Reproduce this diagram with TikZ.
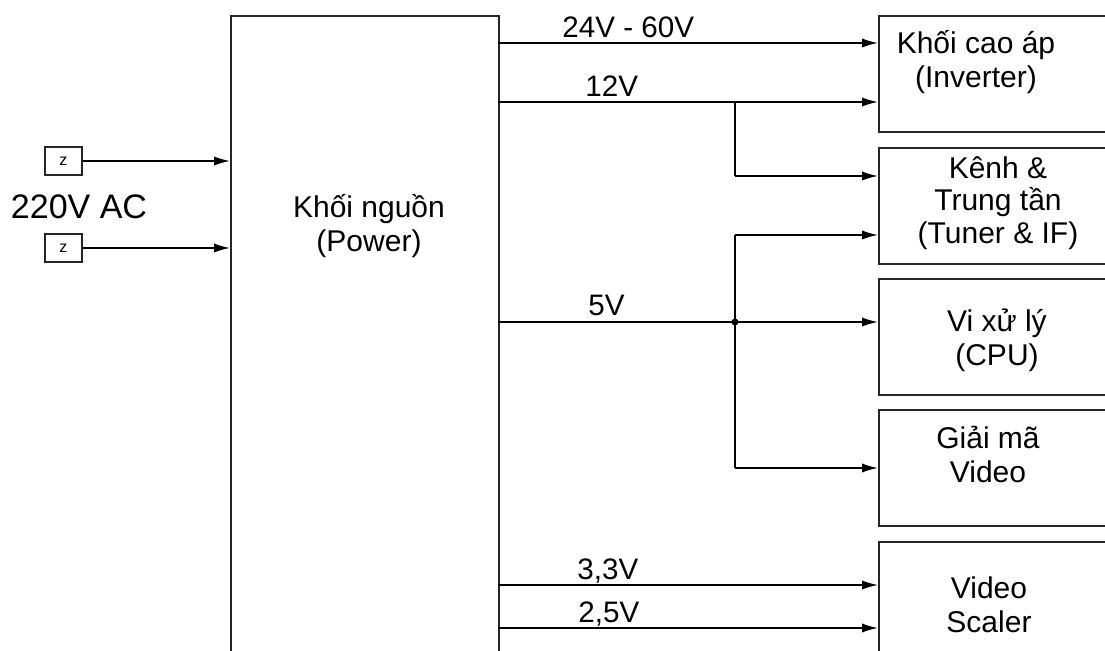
\documentclass[tikz,border=0pt]{standalone}
\usepackage{fontspec}
\setmainfont{Liberation Sans}
\usetikzlibrary{arrows.meta, positioning}

\begin{document}
\begin{tikzpicture}[x=0.5pt, y=-0.5pt,
    block/.style={draw=black!85, line width=0.8pt, anchor=north west, inner sep=0pt},
    wire/.style={line width=0.75pt, -{Latex[length=8pt, width=4.6pt]}},
    bus/.style={line width=0.75pt},
    vlabel/.style={font=\fontsize{14.8}{16}\selectfont, anchor=base west, inner sep=0pt},
    btext/.style={font=\fontsize{15}{17}\selectfont, align=center},
    src/.style={draw=black!85, line width=0.6pt, minimum width=18.5pt, minimum height=14pt,
                font=\fontsize{8}{9}\selectfont, inner sep=0pt}
]
\useasboundingbox (0,0) rectangle (1105,651);
\clip (0,0) rectangle (1105,651);

% Power block (runs off the bottom edge)
\node[block, minimum width=134pt, minimum height=400pt] (pwr) at (230,15) {};
\node[btext] (pwrtxt) at (369,226) {Khối nguồn\\(Power)};

% Load blocks (run off the right edge)
\foreach \name/\ypos in {inv/15, tun/147, cpu/278, dec/409, scl/541} {
    \node[block, minimum width=150pt, minimum height=58pt] (\name) at (878,\ypos) {};
}
\node[btext] (invtxt) at (976,62) {Khối cao áp\\(Inverter)};
\node[btext, font=\fontsize{15}{16.4}\selectfont] (tuntxt) at (998,203) {Kênh \&\\Trung tần\\(Tuner \& IF)};
\node[btext] (cputxt) at (997,340) {Vi xử lý\\(CPU)};
\node[btext] (dectxt) at (988,454) {Giải mã\\Video};
\node[btext] (scltxt) at (989,605) {Video\\Scaler};

% AC input
\node[src] (acA) at (63.5,161) {z};
\node[src] (acB) at (63.5,248) {z};
\node[font=\fontsize{17}{19}\selectfont] (actxt) at (79,207) {220V AC};
\draw[wire] (acA.east) -- (acA -| pwr.west);
\draw[wire] (acB.east) -- (acB -| pwr.west);

% Supply rails
\coordinate (r24) at (498,43);
\coordinate (r12) at (498,102);
\coordinate (r5)  at (498,322);
\coordinate (r33) at (498,585);
\coordinate (r25) at (498,628);
\coordinate (j12) at (735,102);
\coordinate (j5)  at (735,322);
\coordinate (t5)  at (735,235);
\coordinate (b5)  at (735,468);

\draw[wire] (r24) -- (r24 -| inv.west);
\draw[wire] (r12) -- (r12 -| inv.west);
\draw[bus] (j12) |- (735,176) coordinate (k12);
\draw[wire] (k12) -- (k12 -| tun.west);
\draw[wire] (r5) -- (r5 -| cpu.west);
\draw[bus] (t5) -- (b5);
\draw[wire] (t5) -- (t5 -| tun.west);
\draw[wire] (b5) -- (b5 -| dec.west);
\fill (j5) circle (3.5);
\draw[wire] (r33) -- (r33 -| scl.west);
\draw[wire] (r25) -- (r25 -| scl.west);

% Rail labels
\node[vlabel] (l24) at (562,38) {24V - 60V};
\node[vlabel] (l12) at (585,97) {12V};
\node[vlabel] (l5)  at (588,316) {5V};
\node[vlabel] (l33) at (577,580) {3,3V};
\node[vlabel] (l25) at (578,623) {2,5V};
\end{tikzpicture}
\end{document}
